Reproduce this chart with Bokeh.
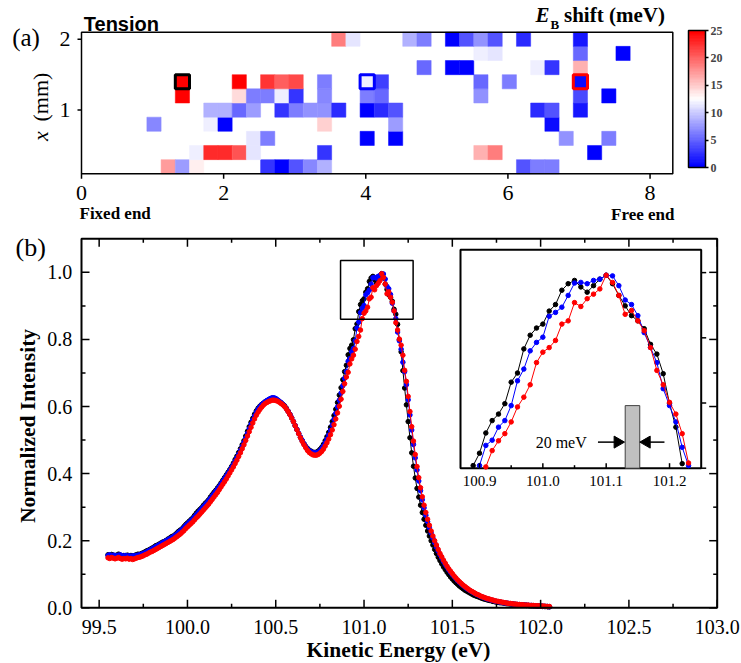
import math
import numpy as np
from bokeh.plotting import figure
from bokeh.layouts import column
from bokeh.models import Range1d, LinearColorMapper, ColorBar, FixedTicker, ColumnDataSource
from bokeh.transform import transform
from bokeh.embed import file_html
from bokeh.resources import INLINE
from bokeh.core.properties import value

SERIF = "Liberation Serif"
SANS = "Liberation Sans"

# ---------------- panel (a): E_B shift map (meV) ----------------
map_row_y = [0.2, 0.4, 0.6, 0.8, 1.0, 1.2, 1.4, 1.6, 1.8, 2.0]
map_row_x = [
    [1.22, 1.42, 1.62, 2.62, 2.82, 3.02, 3.22, 3.42, 6.22, 6.42, 6.62],
    [1.62, 1.82, 2.02, 2.22, 2.42, 3.42, 5.62, 5.82, 7.22],
    [2.42, 2.62, 4.02, 4.42, 6.82, 7.42],
    [1.02, 1.82, 2.02, 3.42, 4.42, 6.62],
    [1.82, 2.02, 2.22, 2.42, 2.82, 3.02, 3.22, 3.42, 3.62, 4.02, 4.22, 4.42, 6.42, 6.62, 7.02],
    [1.42, 2.22, 2.42, 2.62, 2.82, 3.02, 3.42, 4.02, 4.22, 5.62, 7.02, 7.42],
    [1.42, 2.22, 2.62, 2.82, 3.02, 3.42, 4.02, 4.22, 5.62, 6.02, 7.02],
    [4.82, 5.22, 5.42, 6.42, 6.62, 7.02],
    [5.62, 5.82, 7.02, 7.62],
    [3.62, 3.82, 4.62, 4.82, 5.22, 5.42, 5.62, 5.82, 6.22, 7.02],
]
map_row_shift = [
    [17.3, 7.8, 13.0, 2.6, 0.0, 4.4, 6.9, 8.6, 4.4, 6.3, 6.3],
    [11.9, 22.9, 22.9, 20.6, 11.0, 2.6, 16.4, 18.7, 0.0],
    [11.0, 6.2, 0.0, 0.0, 7.1, 6.2],
    [6.9, 11.9, 0.0, 14.6, 7.8, 0.8],
    [8.6, 8.6, 5.2, 7.8, 2.6, 6.2, 7.1, 7.1, 2.3, 0.0, 2.3, 4.4, 2.3, 4.4, 1.3],
    [25.0, 14.0, 6.2, 6.2, 11.9, 2.6, 6.9, 6.0, 5.2, 7.1, 3.6, 0.0],
    [25.0, 25.0, 22.4, 20.3, 21.1, 6.2, 11.8, 3.1, 5.2, 6.2, 0.5],
    [5.2, 0.0, 0.0, 11.9, 2.6, 16.4],
    [11.9, 11.0, 5.2, 0.0],
    [18.7, 11.0, 8.6, 6.2, 0.0, 4.4, 7.1, 4.4, 2.0, 1.3],
]
marked_x = [1.42, 4.02, 7.02]
marked_y = [1.4, 1.4, 1.4]
marked_color = ["black", "blue", "red"]
map_x_lim = [0.0, 8.32]
map_y_lim = [0.1, 2.1]
map_xticks = [0, 2, 4, 6, 8]
map_yticks = [1, 2]
cbar_ticks = [0, 5, 10, 15, 20, 25]

# ---------------- panel (b): normalized spectra ----------------
energy = np.round(np.arange(99.55, 102.0501, 0.01), 2)
black = [
    0.158, 0.156, 0.159, 0.157, 0.155, 0.157, 0.160, 0.156, 0.154, 0.156,
    0.155, 0.157, 0.154, 0.156, 0.155, 0.156, 0.158, 0.160, 0.159, 0.162,
    0.164, 0.167, 0.170, 0.172, 0.175, 0.178, 0.181, 0.185, 0.187, 0.190,
    0.193, 0.196, 0.198, 0.201, 0.205, 0.208, 0.212, 0.214, 0.218, 0.223,
    0.228, 0.232, 0.236, 0.242, 0.248, 0.253, 0.258, 0.263, 0.268, 0.275,
    0.282, 0.288, 0.293, 0.298, 0.305, 0.311, 0.316, 0.322, 0.330, 0.337,
    0.344, 0.350, 0.357, 0.364, 0.372, 0.380, 0.388, 0.396, 0.404, 0.412,
    0.421, 0.431, 0.442, 0.452, 0.463, 0.474, 0.486, 0.498, 0.512, 0.526,
    0.540, 0.553, 0.565, 0.577, 0.587, 0.595, 0.601, 0.606, 0.610, 0.614,
    0.617, 0.620, 0.623, 0.625, 0.624, 0.622, 0.619, 0.615, 0.611, 0.607,
    0.602, 0.595, 0.586, 0.577, 0.566, 0.555, 0.543, 0.531, 0.519, 0.508,
    0.498, 0.489, 0.481, 0.475, 0.470, 0.467, 0.464, 0.463, 0.464, 0.467,
    0.472, 0.478, 0.487, 0.498, 0.510, 0.523, 0.538, 0.555, 0.573, 0.592,
    0.612, 0.634, 0.656, 0.680, 0.704, 0.723, 0.754, 0.773, 0.783, 0.799,
    0.832, 0.846, 0.883, 0.904, 0.915, 0.921, 0.941, 0.951, 0.973, 0.983,
    0.988, 0.978, 0.970, 0.980, 0.990, 0.996, 0.983, 0.965, 0.949, 0.934,
    0.926, 0.914, 0.890, 0.875, 0.845, 0.799, 0.763, 0.707, 0.655, 0.605,
    0.555, 0.507, 0.462, 0.422, 0.387, 0.356, 0.330, 0.306, 0.284, 0.264,
    0.246, 0.229, 0.214, 0.200, 0.187, 0.174, 0.162, 0.151, 0.141, 0.131,
    0.122, 0.114, 0.106, 0.099, 0.092, 0.086, 0.080, 0.075, 0.070, 0.065,
    0.061, 0.057, 0.053, 0.050, 0.047, 0.044, 0.041, 0.038, 0.036, 0.034,
    0.032, 0.030, 0.028, 0.026, 0.025, 0.023, 0.022, 0.021, 0.019, 0.018,
    0.017, 0.016, 0.015, 0.015, 0.014, 0.013, 0.012, 0.012, 0.011, 0.011,
    0.010, 0.010, 0.009, 0.009, 0.008, 0.008, 0.008, 0.007, 0.007, 0.006,
    0.006, 0.006, 0.006, 0.005, 0.005, 0.005, 0.004, 0.004, 0.004, 0.003,
    0.003,
]
blue = [
    0.156, 0.158, 0.155, 0.157, 0.156, 0.155, 0.157, 0.158, 0.155, 0.154,
    0.156, 0.154, 0.155, 0.153, 0.155, 0.154, 0.156, 0.157, 0.158, 0.160,
    0.162, 0.164, 0.167, 0.170, 0.173, 0.176, 0.179, 0.182, 0.185, 0.188,
    0.191, 0.194, 0.197, 0.200, 0.203, 0.206, 0.209, 0.212, 0.216, 0.220,
    0.225, 0.229, 0.234, 0.239, 0.245, 0.250, 0.255, 0.260, 0.265, 0.271,
    0.277, 0.283, 0.289, 0.295, 0.301, 0.307, 0.313, 0.319, 0.326, 0.333,
    0.340, 0.347, 0.354, 0.361, 0.369, 0.377, 0.385, 0.393, 0.401, 0.409,
    0.418, 0.427, 0.437, 0.447, 0.458, 0.469, 0.481, 0.493, 0.506, 0.520,
    0.534, 0.547, 0.560, 0.572, 0.583, 0.592, 0.599, 0.605, 0.610, 0.614,
    0.618, 0.621, 0.624, 0.626, 0.626, 0.624, 0.620, 0.616, 0.612, 0.607,
    0.601, 0.594, 0.586, 0.577, 0.567, 0.556, 0.544, 0.532, 0.520, 0.509,
    0.499, 0.489, 0.480, 0.473, 0.468, 0.465, 0.463, 0.462, 0.462, 0.464,
    0.468, 0.474, 0.482, 0.492, 0.503, 0.515, 0.529, 0.545, 0.562, 0.580,
    0.599, 0.619, 0.640, 0.662, 0.684, 0.704, 0.735, 0.743, 0.763, 0.773,
    0.796, 0.834, 0.852, 0.880, 0.893, 0.901, 0.933, 0.939, 0.947, 0.965,
    0.984, 0.985, 0.983, 0.988, 0.990, 0.996, 0.995, 0.980, 0.958, 0.951,
    0.934, 0.908, 0.885, 0.862, 0.822, 0.796, 0.771, 0.732, 0.704, 0.665,
    0.620, 0.575, 0.530, 0.487, 0.447, 0.411, 0.378, 0.349, 0.322, 0.298,
    0.276, 0.257, 0.239, 0.223, 0.208, 0.194, 0.181, 0.169, 0.158, 0.148,
    0.138, 0.129, 0.121, 0.113, 0.106, 0.099, 0.093, 0.087, 0.081, 0.076,
    0.071, 0.067, 0.062, 0.058, 0.055, 0.051, 0.048, 0.045, 0.042, 0.039,
    0.037, 0.034, 0.032, 0.030, 0.028, 0.026, 0.025, 0.023, 0.022, 0.020,
    0.019, 0.018, 0.017, 0.016, 0.015, 0.014, 0.014, 0.013, 0.012, 0.012,
    0.011, 0.010, 0.010, 0.009, 0.009, 0.008, 0.008, 0.008, 0.007, 0.007,
    0.007, 0.006, 0.006, 0.006, 0.005, 0.005, 0.005, 0.004, 0.004, 0.004,
    0.003,
]
red = [
    0.149, 0.147, 0.150, 0.148, 0.146, 0.148, 0.150, 0.147, 0.145, 0.147,
    0.146, 0.148, 0.145, 0.147, 0.144, 0.146, 0.148, 0.150, 0.151, 0.153,
    0.155, 0.158, 0.160, 0.163, 0.166, 0.168, 0.171, 0.174, 0.177, 0.180,
    0.183, 0.186, 0.189, 0.192, 0.195, 0.198, 0.201, 0.204, 0.208, 0.212,
    0.216, 0.220, 0.225, 0.230, 0.236, 0.241, 0.246, 0.251, 0.256, 0.262,
    0.268, 0.273, 0.279, 0.285, 0.291, 0.297, 0.303, 0.309, 0.316, 0.323,
    0.330, 0.337, 0.344, 0.352, 0.360, 0.368, 0.376, 0.384, 0.393, 0.402,
    0.411, 0.420, 0.430, 0.440, 0.451, 0.462, 0.474, 0.486, 0.499, 0.512,
    0.525, 0.538, 0.551, 0.563, 0.574, 0.583, 0.591, 0.598, 0.604, 0.609,
    0.612, 0.615, 0.617, 0.619, 0.619, 0.618, 0.616, 0.613, 0.609, 0.605,
    0.600, 0.593, 0.585, 0.576, 0.566, 0.555, 0.543, 0.531, 0.519, 0.507,
    0.496, 0.486, 0.477, 0.469, 0.463, 0.459, 0.456, 0.455, 0.455, 0.457,
    0.461, 0.466, 0.473, 0.482, 0.492, 0.503, 0.516, 0.530, 0.546, 0.563,
    0.581, 0.601, 0.622, 0.645, 0.668, 0.688, 0.702, 0.727, 0.742, 0.753,
    0.771, 0.794, 0.809, 0.828, 0.862, 0.878, 0.885, 0.896, 0.921, 0.926,
    0.954, 0.948, 0.960, 0.967, 0.975, 0.996, 0.985, 0.965, 0.936, 0.942,
    0.926, 0.911, 0.885, 0.850, 0.828, 0.801, 0.783, 0.753, 0.708, 0.675,
    0.630, 0.585, 0.540, 0.497, 0.457, 0.421, 0.388, 0.358, 0.331, 0.306,
    0.284, 0.264, 0.246, 0.229, 0.214, 0.200, 0.187, 0.174, 0.162, 0.152,
    0.142, 0.133, 0.124, 0.116, 0.109, 0.102, 0.095, 0.089, 0.083, 0.078,
    0.073, 0.068, 0.064, 0.060, 0.056, 0.052, 0.049, 0.046, 0.043, 0.040,
    0.038, 0.035, 0.033, 0.031, 0.029, 0.027, 0.026, 0.024, 0.023, 0.021,
    0.020, 0.019, 0.018, 0.017, 0.016, 0.015, 0.014, 0.013, 0.013, 0.012,
    0.011, 0.011, 0.010, 0.010, 0.009, 0.009, 0.008, 0.008, 0.008, 0.007,
    0.007, 0.007, 0.006, 0.006, 0.006, 0.005, 0.005, 0.005, 0.004, 0.004,
    0.004,
]
series_colors = ["black", "blue", "red"]
spec_x_lim = [99.4, 103.0]
spec_y_lim = [0.0, 1.1]
spec_xticks_major = [99.5, 100.0, 100.5, 101.0, 101.5, 102.0, 102.5, 103.0]
spec_xticks_minor = [99.75, 100.25, 100.75, 101.25, 101.75, 102.25, 102.75]
spec_yticks_major = [0.0, 0.2, 0.4, 0.6, 0.8, 1.0]
spec_yticks_minor = [0.1, 0.3, 0.5, 0.7, 0.9]

# zoom window marked in the main panel, and inset axis settings
zoom_box_x = [100.867, 101.278]
zoom_box_y = [0.86, 1.035]
inset_xr = [100.87, 101.25]
inset_yr = [0.70, 1.035]
inset_xticks = [100.9, 101.0, 101.1, 101.2]
inset_xticks_minor = [100.95, 101.05, 101.15]
inset_xtick_labels = ["100.9", "101.0", "101.1", "101.2"]
inset_yticks = [0.7, 0.8, 0.9, 1.0]
res_bar = [101.130, 101.153, 0.796]      # 20 meV bar: left, right, top
res_arrow_y = 0.740

# ---------------- layout (canvas pixels) ----------------
W = 741
A_H, B_H = 225, 438
A_BOX = (81.0, 672.3, 31.7, 173.3)      # left, right, top, bottom of the map frame
B_BOX = (81.0, 716.7, 13.3, 382.3)      # same for the spectrum frame (in panel-b canvas)
INSET_BOX = (460.0, 700.7, 24.3, 242.7)
BASELINE_FIX = 0.33                     # em fraction: glyph text sits this much low


def lin(p, p0, p1, d0, d1):
    return d0 + (p - p0) * (d1 - d0) / (p1 - p0)


def ax_(px):
    return lin(px, A_BOX[0], A_BOX[1], map_x_lim[0], map_x_lim[1])


def ay_(py):
    return lin(py, A_BOX[3], A_BOX[2], map_y_lim[0], map_y_lim[1])


def bx_(px):
    return lin(px, B_BOX[0], B_BOX[1], spec_x_lim[0], spec_x_lim[1])


def by_(py):
    return lin(py, B_BOX[3], B_BOX[2], spec_y_lim[0], spec_y_lim[1])


def bwr(n):
    cols = []
    for i in range(n):
        t = i / (n - 1)
        if t <= 0.5:
            r = g = 2 * t
            b = 1.0
        else:
            r = 1.0
            g = b = 2 * (1 - t)
        cols.append("#%02x%02x%02x" % (round(r * 255), round(g * 255), round(b * 255)))
    return cols


def txt(target, xs, ys, texts, size, font=SERIF, style="normal", align="left",
        angle=0.0, x_off=0.0, y_off=0.0):
    fix = BASELINE_FIX * size
    if angle == 0.0:
        y_off -= fix
    else:
        x_off -= fix
    target.text(x=xs, y=ys, text=texts, text_font=value(font), text_font_size=value(f"{size}px"),
                text_font_style=value(style), text_align=value(align),
                text_baseline=value("alphabetic"), angle=angle, x_offset=x_off, y_offset=y_off,
                text_color="black")


def base_fig(h, xr, yr):
    f = figure(width=W, height=h, x_range=Range1d(*xr), y_range=Range1d(*yr),
               x_axis_type=None, y_axis_type=None, min_border=0,
               output_backend="svg", toolbar_location=None)
    f.outline_line_color = None
    f.grid.visible = False
    f.background_fill_color = "white"
    f.border_fill_color = "white"
    return f


# ================= panel (a) =================
pa = base_fig(A_H, (ax_(0), ax_(W)), (ay_(A_H), ay_(0)))
sxa = (A_BOX[1] - A_BOX[0]) / (map_x_lim[1] - map_x_lim[0])
sya = (A_BOX[3] - A_BOX[2]) / (map_y_lim[1] - map_y_lim[0])

cx, cy, cv = [], [], []
for yy, xs, vs in zip(map_row_y, map_row_x, map_row_shift):
    cx += xs
    cy += [yy] * len(xs)
    cv += vs
mapper = LinearColorMapper(palette=bwr(50), low=0, high=25)
src = ColumnDataSource(dict(x=cx, y=cy, v=cv))
pa.rect(x="x", y="y", width=0.2, height=0.2, source=src,
        fill_color=transform("v", mapper), line_color=transform("v", mapper), line_width=0.5)
pa.rect(x=marked_x, y=marked_y, width=0.2, height=0.2, fill_alpha=0,
        line_color=marked_color, line_width=3)
pa.quad(left=[map_x_lim[0]], right=[map_x_lim[1]], bottom=[map_y_lim[0]], top=[map_y_lim[1]],
        fill_alpha=0, line_color="black", line_width=1.5)
pa.segment(x0=map_xticks, y0=[map_y_lim[0]] * 5, x1=map_xticks,
           y1=[map_y_lim[0] - 5 / sya] * 5, line_color="black", line_width=1.5)
pa.segment(x0=[map_x_lim[0]] * 2, y0=map_yticks, x1=[map_x_lim[0] - 4 / sxa] * 2,
           y1=map_yticks, line_color="black", line_width=1.5)
txt(pa, map_xticks, [ay_(200)] * 5, [str(t) for t in map_xticks], 22, align="center")
txt(pa, [ax_(70)] * 2, map_yticks, [str(t) for t in map_yticks], 22, align="right", y_off=7.3)

txt(pa, [ax_(11.7)], [ay_(45.5)], ["(a)"], 25)
txt(pa, [ax_(83.3)], [ay_(30)], ["Tension"], 20, font=SANS, style="bold")
txt(pa, [ax_(535)], [ay_(21.7)], ["E"], 21, style="bold italic")
txt(pa, [ax_(550)], [ay_(27.8)], ["B"], 13, style="bold")
txt(pa, [ax_(563.5)], [ay_(21.7)], ["shift (meV)"], 21, style="bold")
txt(pa, [ax_(47)], [ay_(140.5)], ["x"], 22, style="italic", angle=math.pi / 2)
txt(pa, [ax_(47)], [ay_(121)], ["(mm)"], 22, angle=math.pi / 2)
txt(pa, [ax_(79)], [ay_(218.3)], ["Fixed end"], 17, style="bold")
txt(pa, [ax_(674)], [ay_(220)], ["Free end"], 17, style="bold", align="right")

cb = ColorBar(color_mapper=mapper, ticker=FixedTicker(ticks=cbar_ticks), width=17, height=137,
              location=(688, 58), padding=0, orientation="vertical",
              bar_line_color="black", bar_line_width=1.5,
              major_tick_in=0, major_tick_out=3, major_tick_line_color="black",
              major_tick_line_width=1.5, minor_tick_line_color=None,
              major_label_text_font=SERIF, major_label_text_font_style="bold",
              major_label_text_font_size="12px", label_standoff=2,
              background_fill_alpha=0, border_line_color=None)
pa.add_layout(cb, "center")

# ================= panel (b) =================
pb = base_fig(B_H, (bx_(0), bx_(W)), (by_(B_H), by_(0)))
sxb = (B_BOX[1] - B_BOX[0]) / (spec_x_lim[1] - spec_x_lim[0])
syb = (B_BOX[3] - B_BOX[2]) / (spec_y_lim[1] - spec_y_lim[0])

all_series = [np.array(black), np.array(blue), np.array(red)]
for arr, col in zip(all_series, series_colors):
    pb.line(energy, arr, line_color=col, line_width=1)
    pb.scatter(energy, arr, size=4.5, fill_color=col, line_color=col)

pb.quad(left=[spec_x_lim[0]], right=[spec_x_lim[1]], bottom=[spec_y_lim[0]], top=[spec_y_lim[1]],
        fill_alpha=0, line_color="black", line_width=2)
for ticks, ln in ((spec_xticks_major, 8), (spec_xticks_minor, 4)):
    n = len(ticks)
    pb.segment(x0=ticks, y0=[spec_y_lim[0]] * n, x1=ticks, y1=[spec_y_lim[0] + ln / syb] * n,
               line_color="black", line_width=1.5)
    pb.segment(x0=ticks, y0=[spec_y_lim[1]] * n, x1=ticks, y1=[spec_y_lim[1] - ln / syb] * n,
               line_color="black", line_width=1.5)
for ticks, ln in ((spec_yticks_major, 8), (spec_yticks_minor, 4)):
    n = len(ticks)
    pb.segment(x0=[spec_x_lim[0]] * n, y0=ticks, x1=[spec_x_lim[0] + ln / sxb] * n, y1=ticks,
               line_color="black", line_width=1.5)
    pb.segment(x0=[spec_x_lim[1]] * n, y0=ticks, x1=[spec_x_lim[1] - ln / sxb] * n, y1=ticks,
               line_color="black", line_width=1.5)
txt(pb, spec_xticks_major, [by_(408.3)] * len(spec_xticks_major),
    ["%.1f" % t for t in spec_xticks_major], 20, align="center")
txt(pb, [bx_(71.7)] * len(spec_yticks_major), spec_yticks_major,
    ["%.1f" % t for t in spec_yticks_major], 20, align="right", y_off=6.6)
txt(pb, [bx_(398)], [by_(431.7)], ["Kinetic Energy (eV)"], 21.5, style="bold", align="center")
txt(pb, [bx_(35)], [by_(200.5)], ["Normalized Intensity"], 21.5, style="bold", align="center",
    angle=math.pi / 2)
txt(pb, [bx_(15)], [by_(30.5)], ["(b)"], 26)

pb.quad(left=[zoom_box_x[0]], right=[zoom_box_x[1]], bottom=[zoom_box_y[0]], top=[zoom_box_y[1]],
        fill_alpha=0, line_color="black", line_width=1.5)

# ---- inset, drawn in its own coordinate system ----
ins = pb.subplot(x_source=Range1d(*inset_xr), y_source=Range1d(*inset_yr),
                 x_target=Range1d(bx_(INSET_BOX[0]), bx_(INSET_BOX[1])),
                 y_target=Range1d(by_(INSET_BOX[3]), by_(INSET_BOX[2])))
sxi = (INSET_BOX[1] - INSET_BOX[0]) / (inset_xr[1] - inset_xr[0])
syi = (INSET_BOX[3] - INSET_BOX[2]) / (inset_yr[1] - inset_yr[0])
ins.quad(left=[inset_xr[0]], right=[inset_xr[1]], bottom=[inset_yr[0]], top=[inset_yr[1]],
         fill_color="white", line_color="black", line_width=2)
for arr, col in zip(all_series, series_colors):
    m = (energy >= inset_xr[0]) & (energy <= inset_xr[1]) & (arr >= inset_yr[0]) & (arr <= inset_yr[1])
    ins.line(energy[m], arr[m], line_color=col, line_width=1)
    ins.scatter(energy[m], arr[m], size=4.5, fill_color=col, line_color=col)

ins.segment(x0=inset_xticks, y0=[inset_yr[0]] * 4, x1=inset_xticks, y1=[inset_yr[0] + 5 / syi] * 4,
            line_color="black", line_width=1.5)
ins.segment(x0=inset_xticks_minor, y0=[inset_yr[0]] * 3, x1=inset_xticks_minor,
            y1=[inset_yr[0] + 3 / syi] * 3, line_color="black", line_width=1.5)
ins.segment(x0=[inset_xr[1]] * 4, y0=inset_yticks, x1=[inset_xr[1] + 5 / sxi] * 4, y1=inset_yticks,
            line_color="black", line_width=1.5)
txt(ins, inset_xticks, [inset_yr[0]] * 4, inset_xtick_labels, 15, align="center", y_off=17.3)

ins.quad(left=[res_bar[0]], right=[res_bar[1]], bottom=[inset_yr[0]], top=[res_bar[2]],
         fill_color="#c0c0c0", line_color="#404040", line_width=1)
ins.segment(x0=[101.087, 101.192], y0=[res_arrow_y] * 2, x1=[101.118, 101.164], y1=[res_arrow_y] * 2,
            line_color="black", line_width=1.5)
ins.scatter(x=[101.118, 101.164], y=[res_arrow_y] * 2, marker="triangle", size=12,
            angle=[-math.pi / 2, math.pi / 2], fill_color="black", line_color="black")
txt(ins, [101.029], [res_arrow_y], ["20 meV"], 16, align="center", y_off=5.5)

layout = column(pa, pb)
open("out.html", "w").write(file_html(layout, INLINE))
